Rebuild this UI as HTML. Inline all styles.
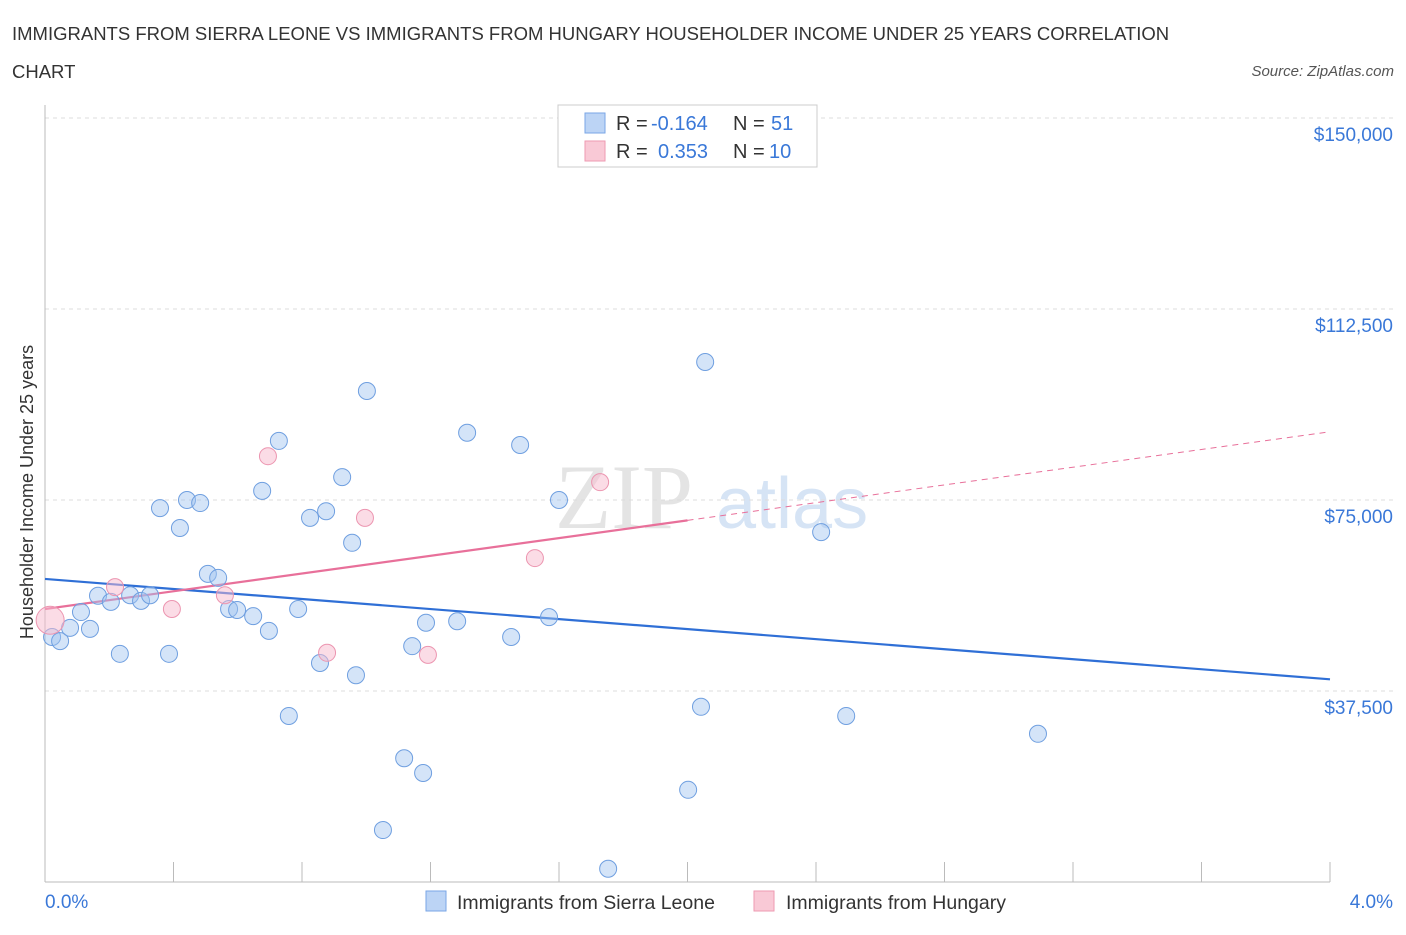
<!DOCTYPE html>
<html><head><meta charset="utf-8">
<style>
body{margin:0;background:#fff;font-family:"Liberation Sans",sans-serif;}
</style></head>
<body>
<svg id="chart" width="1406" height="930" xmlns="http://www.w3.org/2000/svg" font-family="Liberation Sans, sans-serif">
<text x="12" y="40" font-size="18.5" fill="#333">IMMIGRANTS FROM SIERRA LEONE VS IMMIGRANTS FROM HUNGARY HOUSEHOLDER INCOME UNDER 25 YEARS CORRELATION</text>
<text x="12" y="78" font-size="18.5" fill="#333">CHART</text>
<text x="1394" y="76" font-size="15" fill="#555" font-style="italic" text-anchor="end">Source: ZipAtlas.com</text>
<text x="555" y="528" font-size="92" fill="#e4e4e4" font-family="Liberation Serif, serif">ZIP</text>
<text x="716" y="528" font-size="72" fill="#d6e4f5">atlas</text>
<g id="grid"></g><g id="axes"></g><g id="lines"></g><g id="points"></g>
<text transform="translate(33,492) rotate(-90)" font-size="18" fill="#333" text-anchor="middle">Householder Income Under 25 years</text>
<text x="45" y="908" font-size="19" fill="#3a78d8">0.0%</text>
<text x="1393" y="908" font-size="19" fill="#3a78d8" text-anchor="end">4.0%</text>
<g>
<rect x="558" y="105" width="259" height="62" fill="#fff" stroke="#ccc"/>
<rect x="585" y="113" width="20" height="20" fill="#bcd4f5" stroke="#7aa6e6"/>
<rect x="585" y="141" width="20" height="20" fill="#f9c9d6" stroke="#ee9ab2"/>
<text x="616" y="130" font-size="20" fill="#333">R =</text>
<text x="651" y="130" font-size="20" fill="#3a78d8">-0.164</text>
<text x="733" y="130" font-size="20" fill="#333">N =</text>
<text x="771" y="130" font-size="20" fill="#3a78d8">51</text>
<text x="616" y="158" font-size="20" fill="#333">R =</text>
<text x="658" y="158" font-size="20" fill="#3a78d8">0.353</text>
<text x="733" y="158" font-size="20" fill="#333">N =</text>
<text x="769" y="158" font-size="20" fill="#3a78d8">10</text>
</g>
<g>
<rect x="426" y="891" width="20" height="20" fill="#bcd4f5" stroke="#7aa6e6"/>
<text x="457" y="909" font-size="19.5" fill="#333">Immigrants from Sierra Leone</text>
<rect x="754" y="891" width="20" height="20" fill="#f9c9d6" stroke="#ee9ab2"/>
<text x="786" y="909" font-size="19.5" fill="#333">Immigrants from Hungary</text>
</g>
</svg>
<script>
const yTicks=[37500,75000,112500,150000];
const yTickLabels=["$37,500","$75,000","$112,500","$150,000"];
const xTicks=[0,0.4,0.8,1.2,1.6,2.0,2.4,2.8,3.2,3.6,4.0];
const blueX=[0.022,0.047,0.078,0.112,0.140,0.165,0.205,0.233,0.265,0.299,0.327,0.358,0.386,0.420,0.442,0.483,0.507,0.539,0.573,0.598,0.648,0.676,0.697,0.728,0.759,0.788,0.825,0.856,0.875,0.925,0.956,0.968,1.002,1.052,1.118,1.143,1.177,1.186,1.283,1.314,1.451,1.479,1.569,1.600,1.753,2.002,2.042,2.055,2.416,2.494,3.091];
const blueY=[48100,47300,49900,53000,49700,56200,55000,44800,56300,55200,56300,73400,44800,69500,75000,74400,60500,59700,53600,53400,52200,76800,49300,86600,32600,53600,71500,43000,72800,79500,66600,40600,96400,10200,24300,46300,21400,50900,51200,88200,48100,85800,52000,75000,2600,18100,34400,102100,68700,32600,29100];
const pinkX=[0.016,0.218,0.395,0.560,0.694,0.878,0.996,1.192,1.525,1.728];
const pinkY=[51400,57900,53600,56300,83600,45000,71500,44600,63600,78500];
const blueTrend=[59500,39800];
const pinkTrend=[53600,88400];
const NS="http://www.w3.org/2000/svg";
const sx=v=>45+v/4*1285, sy=v=>882-v/37500*191;
function mk(tag,attrs,parent){const e=document.createElementNS(NS,tag);for(const k in attrs)e.setAttribute(k,attrs[k]);document.getElementById(parent).appendChild(e);return e;}
yTicks.forEach((t,i)=>{
 const l=mk('line',{x1:45,x2:1393,y1:sy(t),y2:sy(t),stroke:'#ddd','stroke-dasharray':'4,4'},'grid');
 
 
 const tx=mk('text',{x:1393,y:sy(t)+23,'font-size':19,fill:'#3a78d8','text-anchor':'end'},'grid');
 tx.textContent=yTickLabels[i];
 
 
});
let a=mk('line',{x1:45,x2:45,y1:105,y2:882,stroke:'#bbb'},'axes');


a=mk('line',{x1:45,x2:1330,y1:882,y2:882,stroke:'#bbb'},'axes');


xTicks.forEach(t=>{const l=mk('line',{x1:sx(t),x2:sx(t),y1:862,y2:882,stroke:'#bbb'},'axes');
 
 });
let tl=mk('line',{x1:sx(0),y1:sy(blueTrend[0]),x2:sx(4),y2:sy(blueTrend[1]),stroke:'#2f6fd6','stroke-width':2.2},'lines');


const pm=pinkTrend[0]+(pinkTrend[1]-pinkTrend[0])*0.5;
tl=mk('line',{x1:sx(0),y1:sy(pinkTrend[0]),x2:sx(2),y2:sy(pm),stroke:'#e8709a','stroke-width':2.2},'lines');


tl=mk('line',{x1:sx(2),y1:sy(pm),x2:sx(4),y2:sy(pinkTrend[1]),stroke:'#e8709a','stroke-width':1,'stroke-dasharray':'6,5'},'lines');


blueX.forEach((x,i)=>{const c=mk('circle',{cx:sx(x),cy:sy(blueY[i]),r:8.5,fill:'rgba(160,195,240,0.45)',stroke:'#6f9fe0','stroke-width':1},'points');
 
 });
pinkX.forEach((x,i)=>{const c=mk('circle',{cx:sx(x),cy:sy(pinkY[i]),r:i==0?14:8.5,fill:'rgba(248,185,205,0.5)',stroke:'#ec95b0','stroke-width':1},'points');
 
 });
</script>
</body></html>
